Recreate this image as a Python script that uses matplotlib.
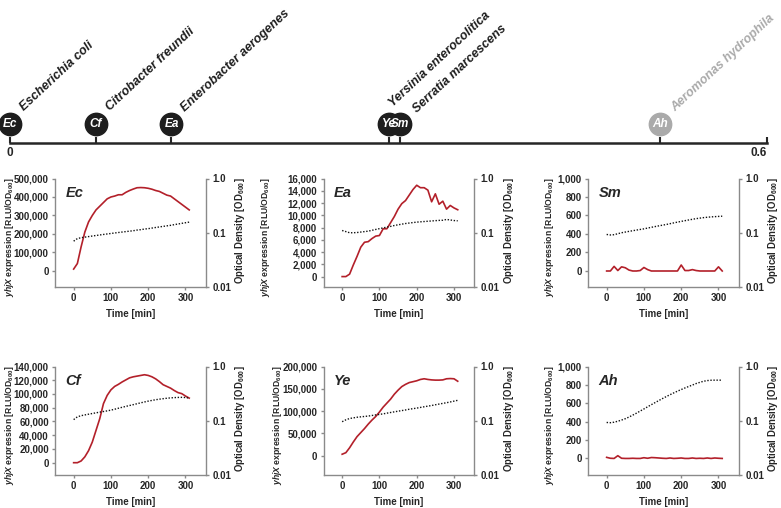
import numpy as np
import matplotlib
matplotlib.use("Agg")
import matplotlib.pyplot as plt
from matplotlib.ticker import FuncFormatter, FixedLocator, NullLocator

plt.rcParams['font.family'] = ['Liberation Sans', 'DejaVu Sans']
plt.rcParams['font.weight'] = 'bold'
plt.rcParams['mathtext.fontset'] = 'custom'
plt.rcParams['mathtext.rm'] = 'Liberation Sans:bold'
plt.rcParams['mathtext.it'] = 'Liberation Sans:italic:bold'
plt.rcParams['mathtext.bf'] = 'Liberation Sans:bold'

# timeline: species positions
species = ['Escherichia coli', 'Citrobacter freundii', 'Enterobacter aerogenes',
           'Yersinia enterocolitica', 'Serratia marcescens', 'Aeromonas hydrophila']
abbrev = ['Ec', 'Cf', 'Ea', 'Ye', 'Sm', 'Ah']
positions = [0.0, 0.068, 0.128, 0.300, 0.309, 0.515]

# time points [min]
time = [0, 10, 20, 30, 40, 50, 60, 70, 80, 90, 100, 110, 120, 130, 140, 150,
        160, 170, 180, 190, 200, 210, 220, 230, 240, 250, 260, 270, 280, 290, 300, 310]

# yhjX expression [RLU/OD600]
expr_ec = [10000, 40000, 130000, 210000, 265000, 300000, 330000, 350000, 370000, 390000,
           400000, 405000, 412000, 412000, 425000, 435000, 443000, 450000, 451000, 450000,
           447000, 442000, 435000, 430000, 420000, 410000, 405000, 390000, 375000, 360000,
           345000, 330000]
expr_ea = [0, 0, 400, 1900, 3300, 4800, 5600, 5700, 6200, 6600, 6700, 7800, 7800, 8800,
           9800, 11000, 11900, 12400, 13300, 14200, 14900, 14500, 14500, 14100, 12200,
           13500, 11800, 12300, 11000, 11600, 11200, 10900]
expr_sm = [0, 0, 50, 5, 45, 35, 10, 0, 0, 5, 38, 15, 0, 0, 0, 0, 0, 0, 0, 0, 65, 5, 5,
           15, 5, 0, 0, 0, 0, 0, 45, 0]
expr_cf = [0, 0, 2500, 8500, 17500, 30000, 47000, 64000, 86000, 98000, 106000, 111000,
           114000, 117500, 120500, 123500, 125000, 126000, 127000, 128000, 127000, 125000,
           122000, 118000, 113500, 111000, 108500, 105000, 102000, 100500, 97000, 94000]
expr_ye = [3500, 7000, 18000, 31000, 43000, 52000, 61000, 71000, 80000, 88000, 98000,
           109000, 118000, 127000, 138000, 147000, 155000, 160000, 164000, 166000, 168000,
           171000, 172500, 171000, 170000, 169500, 169500, 170000, 172500, 173000, 172500,
           167000]
expr_ah = [12, 2, 0, 30, 2, 0, 0, 2, 0, 0, 8, 2, 10, 8, 5, 2, 0, 5, 0, 2, 5, 0, 0, 5, 0,
           2, 0, 5, 0, 5, 2, 0]

# optical density [OD600]
od_ec = [0.070, 0.078, 0.081, 0.083, 0.085, 0.087, 0.089, 0.091, 0.093, 0.095, 0.097,
         0.099, 0.101, 0.103, 0.105, 0.107, 0.109, 0.112, 0.114, 0.117, 0.119, 0.122,
         0.125, 0.128, 0.131, 0.134, 0.137, 0.141, 0.145, 0.149, 0.153, 0.157]
od_ea = [0.110, 0.105, 0.100, 0.100, 0.101, 0.103, 0.105, 0.107, 0.111, 0.115, 0.119,
         0.123, 0.127, 0.131, 0.136, 0.140, 0.144, 0.148, 0.151, 0.154, 0.157, 0.159,
         0.161, 0.163, 0.165, 0.167, 0.169, 0.170, 0.176, 0.172, 0.168, 0.166]
od_sm = [0.093, 0.091, 0.092, 0.096, 0.100, 0.103, 0.106, 0.109, 0.112, 0.115, 0.118,
         0.122, 0.126, 0.130, 0.134, 0.138, 0.142, 0.147, 0.152, 0.157, 0.162, 0.167,
         0.172, 0.177, 0.182, 0.186, 0.190, 0.193, 0.196, 0.198, 0.200, 0.202]
od_cf = [0.105, 0.118, 0.124, 0.128, 0.132, 0.136, 0.140, 0.144, 0.148, 0.152, 0.157,
         0.163, 0.170, 0.177, 0.184, 0.191, 0.198, 0.206, 0.214, 0.222, 0.230, 0.237,
         0.244, 0.250, 0.255, 0.260, 0.264, 0.267, 0.269, 0.270, 0.268, 0.262]
od_ye = [0.096, 0.104, 0.110, 0.113, 0.116, 0.118, 0.120, 0.122, 0.125, 0.128, 0.131,
         0.134, 0.138, 0.142, 0.146, 0.150, 0.154, 0.158, 0.163, 0.167, 0.171, 0.176,
         0.181, 0.186, 0.191, 0.197, 0.203, 0.209, 0.215, 0.222, 0.230, 0.238]
od_ah = [0.093, 0.092, 0.094, 0.098, 0.103, 0.109, 0.117, 0.127, 0.138, 0.151, 0.165,
         0.181, 0.198, 0.216, 0.236, 0.257, 0.279, 0.302, 0.326, 0.351, 0.376, 0.402,
         0.428, 0.455, 0.485, 0.510, 0.535, 0.550, 0.558, 0.560, 0.560, 0.560]

RED = '#b3202a'
GRAY = '#8a8a8a'
DARK = '#262626'

fig = plt.figure(figsize=(7.81, 5.08), dpi=100)

# ---- timeline ----
tl = fig.add_axes([10 / 781, 1 - 143 / 508, 757 / 781, 143 / 508])
tl.set_xlim(0, 0.6)
tl.set_ylim(0, 1)
for s in ['top', 'right', 'left']:
    tl.spines[s].set_visible(False)
tl.spines['bottom'].set_color(DARK)
tl.spines['bottom'].set_linewidth(1.8)
tl.set_yticks([])
tl.set_xticks(positions + [0.6])
tl.set_xticklabels(['0', '', '', '', '', '', '0.6'], fontsize=8.5, fontweight='bold', color=DARK)
tl.tick_params(axis='x', direction='in', length=4, width=1.5, color=DARK, pad=3)
tl.get_xticklabels()[-1].set_horizontalalignment('right')

label_off = [(10, 9), (10, 9), (10, 9), (3, 12), (12, 8), (11, 9)]
for name, ab, p, off in zip(species, abbrev, positions, label_off):
    col = '#aaaaaa' if ab == 'Ah' else '#1e1e1e'
    tl.scatter([p], [0.133], s=260, color=col, zorder=3, clip_on=False)
    tl.text(p, 0.133, ab, ha='center', va='center', color='white', fontsize=8.5,
            fontweight='bold', fontstyle='italic', zorder=4)
    tl.annotate(name, xy=(p, 0.133), xytext=off, textcoords='offset points',
                rotation=43, rotation_mode='anchor', ha='left', va='baseline',
                fontsize=9, fontweight='bold', fontstyle='italic', color=col)

# ---- panels ----
lefts = [55 / 781, 323.5 / 781, 588 / 781]
width = 151 / 781
row_bottoms = [1 - 287 / 508, 1 - 475 / 508]
height = 108.5 / 508

# name, expression, OD, ymax, tick step, ymin, row, col, left label x (px from spine)
panels = [
    ('Ec', expr_ec, od_ec, 500000, 100000, -87000, 0, 0, -39),
    ('Ea', expr_ea, od_ea, 16000, 2000, -1700, 0, 1, -51),
    ('Sm', expr_sm, od_sm, 1000, 200, -173, 0, 2, -32),
    ('Cf', expr_cf, od_cf, 140000, 20000, -17900, 1, 0, -39),
    ('Ye', expr_ye, od_ye, 200000, 50000, -43000, 1, 1, -40),
    ('Ah', expr_ah, od_ah, 1000, 200, -180, 1, 2, -32),
]

comma = FuncFormatter(lambda v, p: f'{int(round(v)):,}')

for ab, expr, od, ymax, step, ymin, r, c, lx in panels:
    ax = fig.add_axes([lefts[c], row_bottoms[r], width, height])
    ax2 = ax.twinx()
    ax.plot(time, expr, color=RED, lw=1.2, zorder=3)
    ax2.plot(time, od, color='#111111', lw=1.0, ls=(0, (1, 1.2)))
    ax.set_xlim(-50, 355)
    ax.set_ylim(ymin, ymax)
    ax.set_yticks(np.arange(0, ymax + 1, step))
    ax.yaxis.set_major_formatter(comma)
    ax.set_xticks([0, 100, 200, 300])
    ax2.set_yscale('log')
    ax2.set_ylim(0.01, 1.0)
    ax2.yaxis.set_major_locator(FixedLocator([0.01, 0.1, 1.0]))
    ax2.yaxis.set_minor_locator(NullLocator())
    ax2.set_yticklabels(['0.01', '0.1', '1.0'])
    for a in (ax, ax2):
        a.spines['top'].set_visible(False)
        for s in ['left', 'right', 'bottom']:
            a.spines[s].set_color(GRAY)
            a.spines[s].set_linewidth(1.0)
        a.tick_params(labelsize=7, colors=GRAY, labelcolor=DARK, length=2.5, width=1, pad=2)
    ax.spines['right'].set_visible(False)
    ax2.spines['left'].set_visible(False)
    ax2.spines['bottom'].set_visible(False)
    for lab in ax.get_xticklabels() + ax.get_yticklabels() + ax2.get_yticklabels():
        lab.set_fontweight('bold')
    ax.set_xlabel('Time [min]', fontsize=7, fontweight='bold', color=DARK, labelpad=4)
    ax.set_ylabel(r'$\mathit{yhjX}$ expression [RLU/OD$_{600}$]', fontsize=6.2,
                  fontweight='bold', color=DARK)
    ax.yaxis.set_label_coords(lx / 151, 0.456)
    ax2.set_ylabel(r'Optical Density [OD$_{600}$]', fontsize=6.9, fontweight='bold',
                   color=DARK)
    ax2.yaxis.set_label_coords(1 + 27 / 151, 0.52)
    ax.text(0.07, 0.93, ab, transform=ax.transAxes, ha='left', va='top', fontsize=10.5,
            fontweight='bold', fontstyle='italic', color=DARK)

fig.savefig('out.png', dpi=100)
